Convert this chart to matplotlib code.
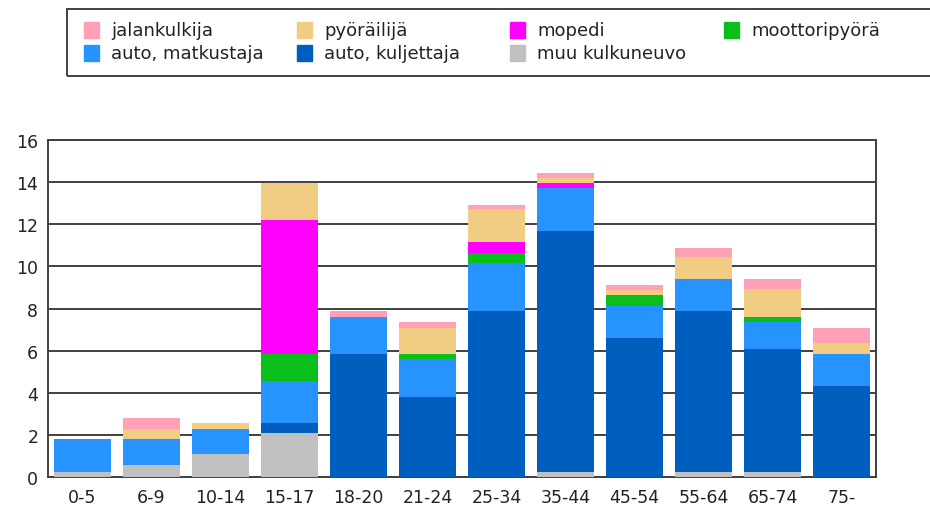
import matplotlib.pyplot as plt
from matplotlib.patches import Rectangle
import numpy as np

plt.rcParams['font.family'] = ['DejaVu Sans']
plt.rcParams['font.size'] = 12.5

# ikäryhmät
groups = ['0-5', '6-9', '10-14', '15-17', '18-20', '21-24', '25-34',
          '35-44', '45-54', '55-64', '65-74', '75-']

# sarjat alhaalta ylös
muu = [0.25, 0.55, 1.07, 2.07, 0, 0, 0, 0.26, 0, 0.26, 0.26, 0]
kuljettaja = [0, 0, 0, 0.5, 5.85, 3.81, 7.9, 11.43, 6.59, 7.64, 5.83, 4.33]
matkustaja = [1.55, 1.25, 1.22, 1.97, 1.75, 1.77, 2.26, 2.05, 1.51, 1.52, 1.29, 1.52]
moottoripyora = [0, 0, 0, 1.3, 0, 0.28, 0.49, 0, 0.53, 0, 0.22, 0]
mopedi = [0, 0, 0, 6.36, 0, 0, 0.52, 0.21, 0, 0, 0, 0]
pyorailija = [0, 0.5, 0.29, 1.74, 0, 1.23, 1.55, 0.27, 0.27, 1.01, 1.31, 0.52]
jalankulkija = [0, 0.5, 0, 0, 0.27, 0.29, 0.19, 0.21, 0.22, 0.44, 0.51, 0.72]

series = [
    ('muu kulkuneuvo', muu, '#C0C0C0'),
    ('auto, kuljettaja', kuljettaja, '#005FBE'),
    ('auto, matkustaja', matkustaja, '#2693FF'),
    ('moottoripyörä', moottoripyora, '#0ABF1C'),
    ('mopedi', mopedi, '#FF00FF'),
    ('pyöräilijä', pyorailija, '#F0CD82'),
    ('jalankulkija', jalankulkija, '#FFA0B6'),
]
colors = {name: c for name, _, c in series}

fig = plt.figure(figsize=(9.3, 5.06), dpi=100)
ax = fig.add_axes([0.0516, 0.0553, 0.8904, 0.666])

x = np.arange(len(groups))
bottom = np.zeros(len(groups))
for name, vals, c in series:
    ax.bar(x, vals, width=0.83, bottom=bottom, color=c, linewidth=0, zorder=3)
    bottom += np.array(vals)

ax.set_xlim(-0.5, len(groups) - 0.5)
ax.set_ylim(0, 16)
ax.set_yticks(range(0, 17, 2))
ax.set_xticks(x)
ax.set_xticklabels(groups)
ax.tick_params(axis='y', length=0, pad=7, labelcolor='#222222')
ax.tick_params(axis='x', length=0, pad=8, labelcolor='#222222')
ax.yaxis.grid(True, color='#404040', linewidth=1.4, zorder=1)
for s in ax.spines.values():
    s.set_color('#404040')
    s.set_linewidth(1.4)

# selite
fig.patches.append(Rectangle((67 / 930, 1 - 77 / 506), 880 / 930, 67 / 506,
                             transform=fig.transFigure, fill=False,
                             edgecolor='#404040', linewidth=1.4))
legend_rows = [
    ['jalankulkija', 'pyöräilijä', 'mopedi', 'moottoripyörä'],
    ['auto, matkustaja', 'auto, kuljettaja', 'muu kulkuneuvo'],
]
col_x = [84, 297, 510, 724]
row_y = [31, 54]
for r, row in enumerate(legend_rows):
    for cidx, name in enumerate(row):
        px, py = col_x[cidx], row_y[r]
        fig.patches.append(Rectangle((px / 930, 1 - (py + 8) / 506), 15 / 930, 16 / 506,
                                     transform=fig.transFigure, color=colors[name]))
        fig.text((px + 27) / 930, 1 - py / 506, name, va='center', ha='left',
                 fontsize=13, color='#222222')

plt.savefig('out.png', dpi=100, facecolor='white')
